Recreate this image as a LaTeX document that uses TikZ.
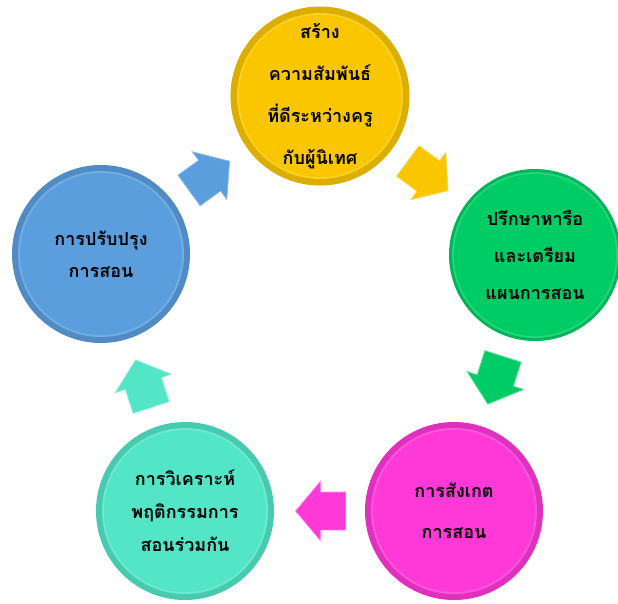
\documentclass[tikz,border=0pt]{standalone}
\usepackage{fontspec}
\newfontfamily\thaifont[Script=Thai]{Loma}
\usetikzlibrary{shapes.arrows}
\definecolor{cycyellow}{HTML}{F9C600}
\definecolor{cycgreen}{HTML}{00CC66}
\definecolor{cycpink}{HTML}{FF38D8}
\definecolor{cycteal}{HTML}{52E6C6}
\definecolor{cycblue}{HTML}{5B9EDE}
\begin{document}
\begin{tikzpicture}[x=1pt,y=-1pt,
  stage/.style={circle,minimum size=178pt,inner sep=0pt,fill=#1!88!black,
    path picture={\fill[#1!85!white] (path picture bounding box.center) circle (83pt);
      \fill[#1] (path picture bounding box.center) circle (81pt);}},
  thaitext/.style={align=center,font=\thaifont\bfseries\fontsize{18}{#1}\selectfont},
  flow/.style={single arrow,minimum height=50pt,inner xsep=0pt,inner ysep=18.5pt,
    single arrow head extend=10.5pt,single arrow tip angle=100,
    fill=#1,draw=#1!70!white,line width=0.8pt,pos=0.4,sloped,allow upside down}]
\useasboundingbox (0,0) rectangle (618,603);

% Stages
\node[stage=cycyellow,thaitext=42pt] (build) at (320,96) {สร้าง\\ความสัมพันธ์\\ที่ดีระหว่างครู\\กับผู้นิเทศ};
\node[stage=cycgreen,minimum size=172pt,thaitext=37pt] (plan) at (535,255) {ปรึกษาหารือ\\และเตรียม\\แผนการสอน};
\node[stage=cycpink,thaitext=41pt] (observe) at (454,511) {การสังเกต\\การสอน};
\node[stage=cycteal,thaitext=33pt] (analyse) at (185,511) {การวิเคราะห์\\พฤติกรรมการ\\สอนร่วมกัน};
\node[stage=cycblue,thaitext=32pt] (improve) at (101,254) {การปรับปรุง\\การสอน};

% Arrows
\path (improve) -- node[flow=cycblue] (toBuild) {} (build);
\path (build) -- node[flow=cycyellow] (toPlan) {} (plan);
\path (plan) -- node[flow=cycgreen] (toObserve) {} (observe);
\path (observe) -- node[flow=cycpink] (toAnalyse) {} (analyse);
\path (analyse) -- node[flow=cycteal] (toImprove) {} (improve);
\end{tikzpicture}
\end{document}
